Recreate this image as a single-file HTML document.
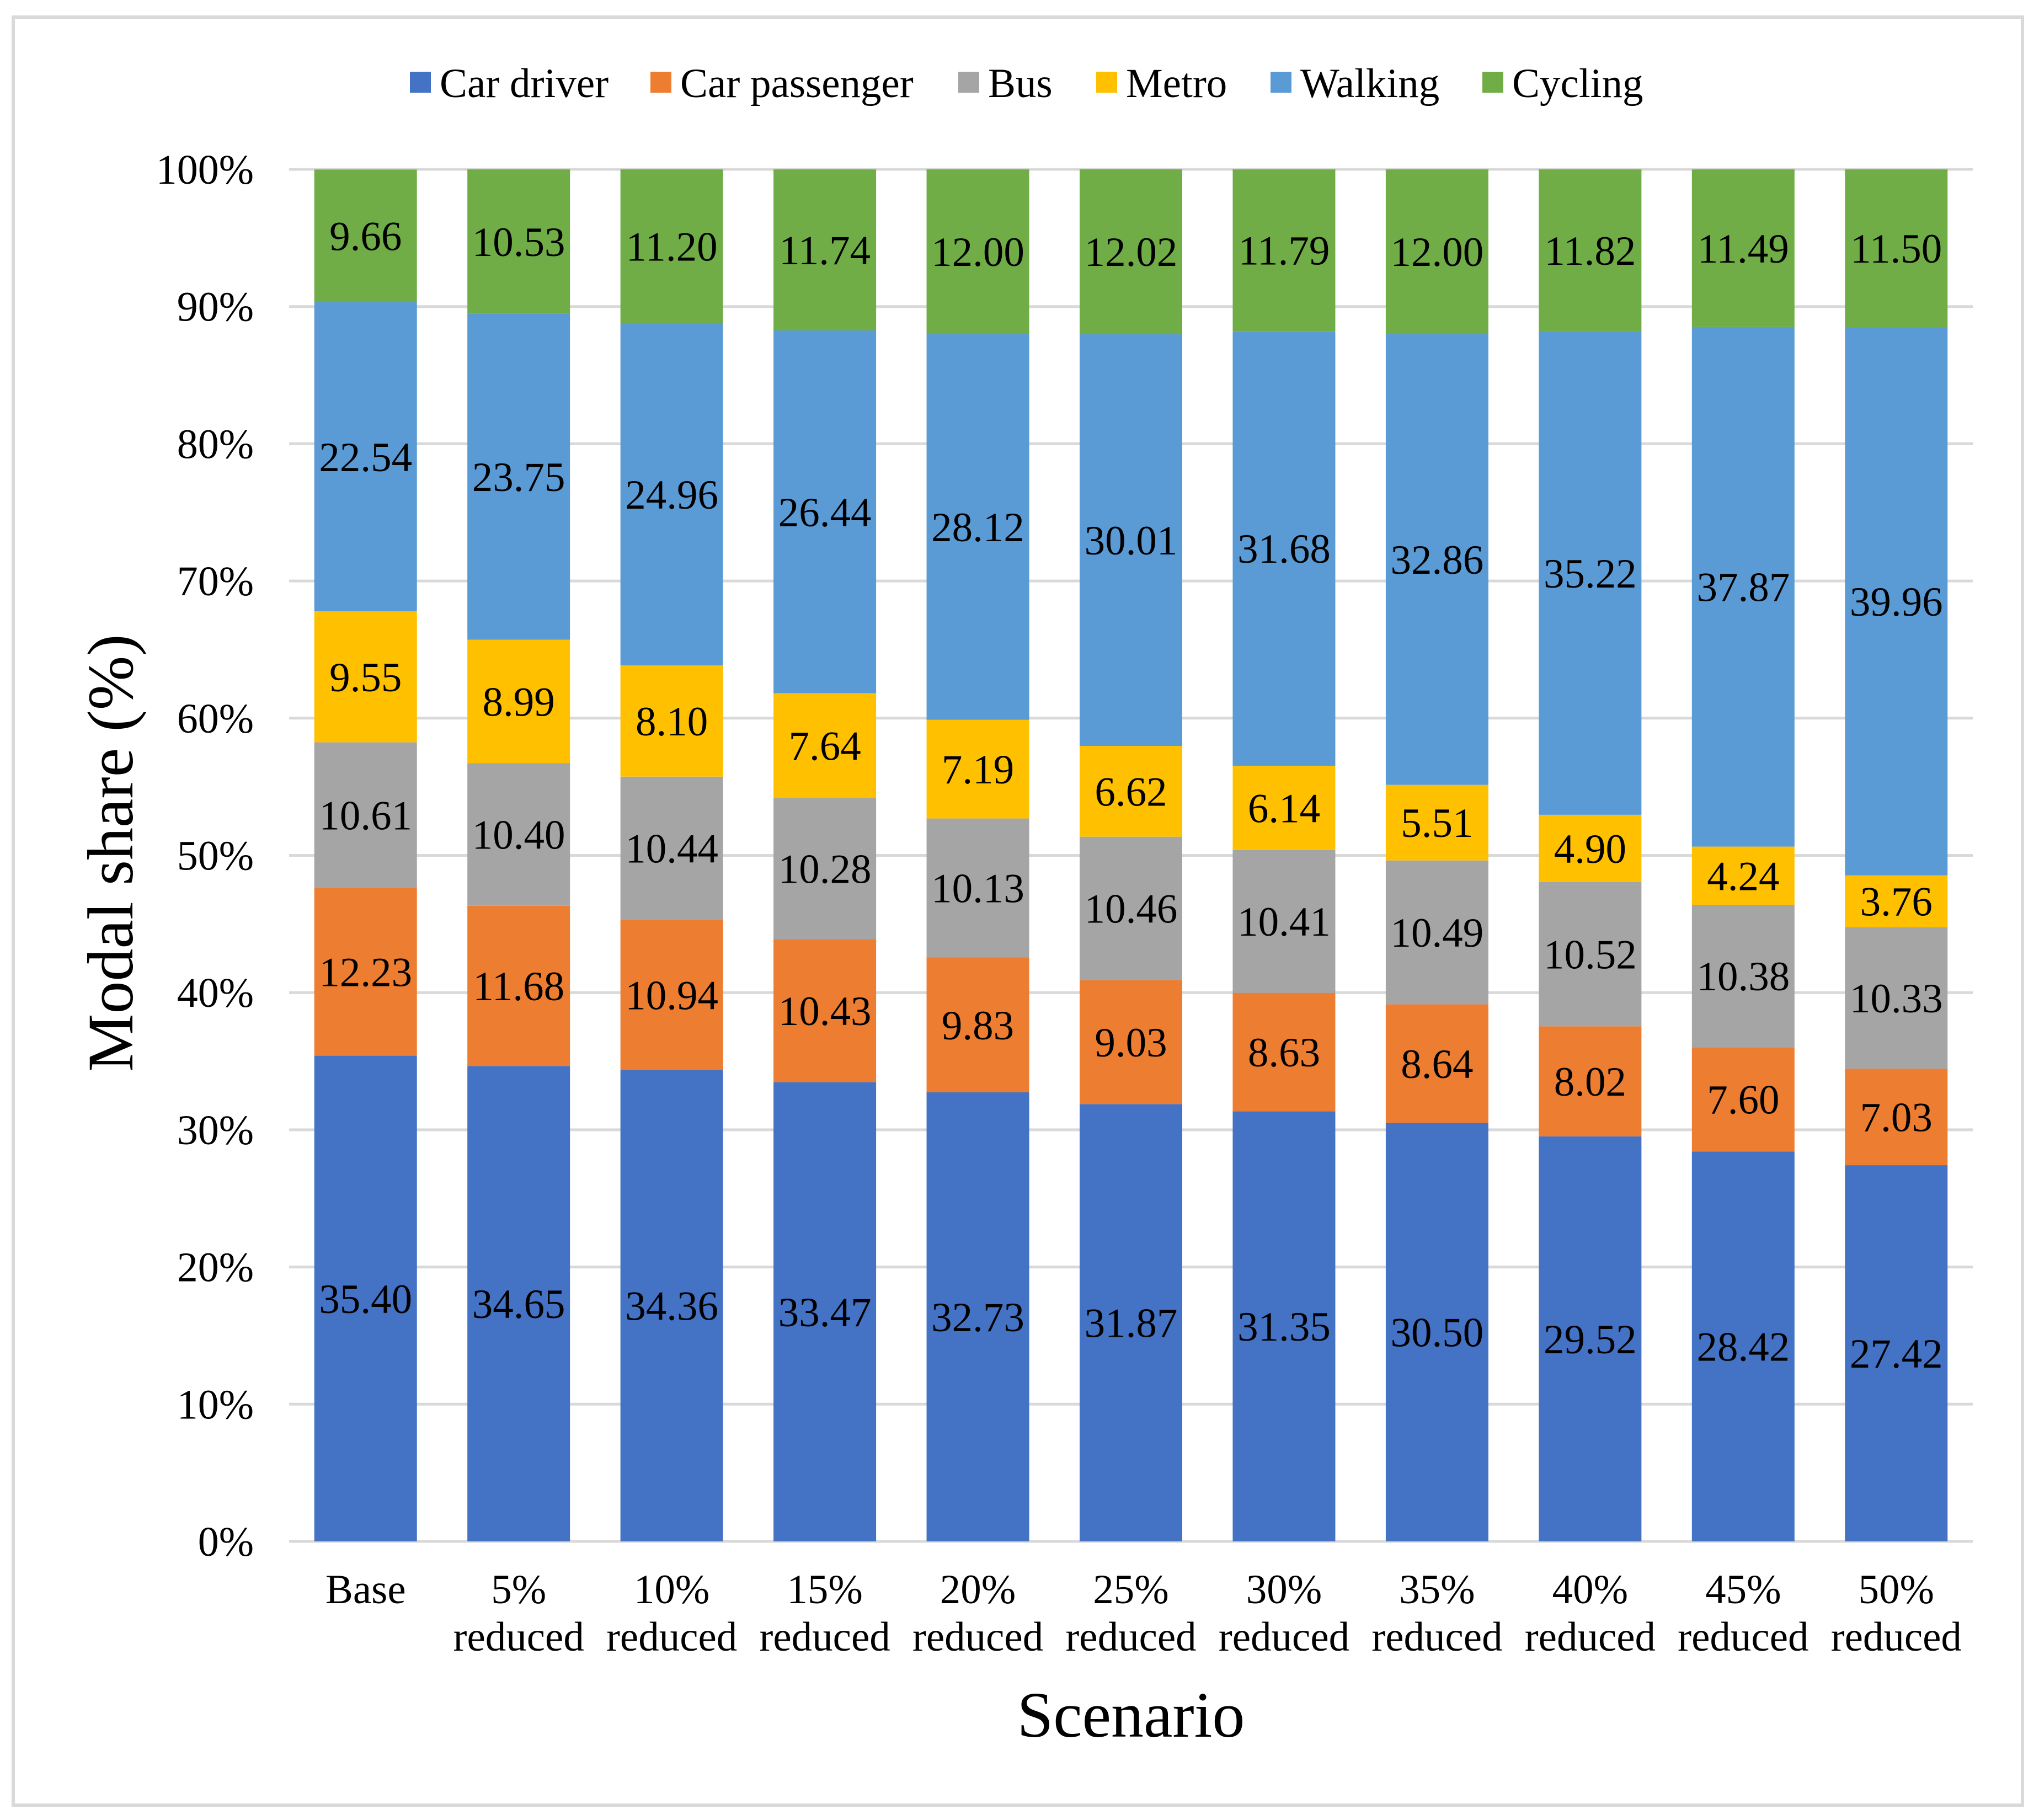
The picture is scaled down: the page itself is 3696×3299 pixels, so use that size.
<!DOCTYPE html>
<html><head><meta charset="utf-8"><style>
html,body{margin:0;padding:0;background:#fff;}
svg{display:block;}
text{font-family:"Liberation Serif",serif;fill:#000;}
</style></head><body>
<svg id="chart" width="3696" height="3299" viewBox="0 0 3696 3299" xmlns="http://www.w3.org/2000/svg">
<rect x="24" y="31" width="3642" height="3241" fill="#fff" stroke="#d9d9d9" stroke-width="6"/>
<g id="grid"></g><g id="bars"></g><g id="labels"></g><g id="legend"></g>
<text transform="translate(240,1546) rotate(-90)" text-anchor="middle" font-size="118">Modal share (%)</text>
<text x="2050" y="3148" text-anchor="middle" font-size="118">Scenario</text>
</svg>
<script>
const categories = ["Base","5%|reduced","10%|reduced","15%|reduced","20%|reduced","25%|reduced","30%|reduced","35%|reduced","40%|reduced","45%|reduced","50%|reduced"];
const seriesNames = ["Car driver","Car passenger","Bus","Metro","Walking","Cycling"];
const carDriver = [35.40,34.65,34.36,33.47,32.73,31.87,31.35,30.50,29.52,28.42,27.42];
const carPassenger = [12.23,11.68,10.94,10.43,9.83,9.03,8.63,8.64,8.02,7.60,7.03];
const bus = [10.61,10.40,10.44,10.28,10.13,10.46,10.41,10.49,10.52,10.38,10.33];
const metro = [9.55,8.99,8.10,7.64,7.19,6.62,6.14,5.51,4.90,4.24,3.76];
const walking = [22.54,23.75,24.96,26.44,28.12,30.01,31.68,32.86,35.22,37.87,39.96];
const cycling = [9.66,10.53,11.20,11.74,12.00,12.02,11.79,12.00,11.82,11.49,11.50];
const yTicks = [0,10,20,30,40,50,60,70,80,90,100];

const colors = ["#4472C4","#ED7D31","#A5A5A5","#FFC000","#5B9BD5","#70AD47"];
const series = [carDriver,carPassenger,bus,metro,walking,cycling];
const NS="http://www.w3.org/2000/svg";
const X0=524,X1=3576,Y0=2794,Y100=307,BW=186;
const band=(X1-X0)/categories.length;
function yS(v){return Y0-(v/100)*(Y0-Y100);}
function xC(i){return X0+band*(i+0.5);}
function mk(tag,attrs,parent){const e=document.createElementNS(NS,tag);for(const k in attrs)e.setAttribute(k,attrs[k]);parent.appendChild(e);return e;}
const grid=document.getElementById('grid'),bars=document.getElementById('bars'),labels=document.getElementById('labels'),legend=document.getElementById('legend');
yTicks.forEach(t=>{
  const l=mk('line',{x1:X0,x2:X1,y1:yS(t),y2:yS(t),stroke:'#d9d9d9','stroke-width':5},grid);
  
  
  const tx=mk('text',{x:460,y:yS(t)+26,'text-anchor':'end','font-size':76},grid);
  tx.textContent=t+'%';
  
  
});
categories.forEach((c,i)=>{
  let cum=0;
  series.forEach((s,k)=>{
    const v=s[i];
    const yt=yS(cum+v),yb=yS(cum);
    const r=mk('rect',{x:xC(i)-BW/2,y:yt,width:BW,height:yb-yt,fill:colors[k]},bars);
    
    
    const t=mk('text',{x:xC(i),y:(yt+yb)/2+26,'text-anchor':'middle','font-size':75},labels);
    t.textContent=v.toFixed(2);
    
    
    cum+=v;
  });
  const parts=c.split('|');
  parts.forEach((p,j)=>{
    const t=mk('text',{x:xC(i),y:2906+j*86,'text-anchor':'middle','font-size':75},labels);
    t.textContent=p;
    
    
  });
});
const legX=[743,1179,1737,1987,2303,2687];
seriesNames.forEach((n,k)=>{
  const g=mk('g',{},legend);
  
  
  mk('rect',{x:legX[k],y:130,width:38,height:38,fill:colors[k]},g);
  const t=mk('text',{x:legX[k]+54,y:176,'font-size':75},g);
  t.textContent=n;
});
</script>
</body></html>
